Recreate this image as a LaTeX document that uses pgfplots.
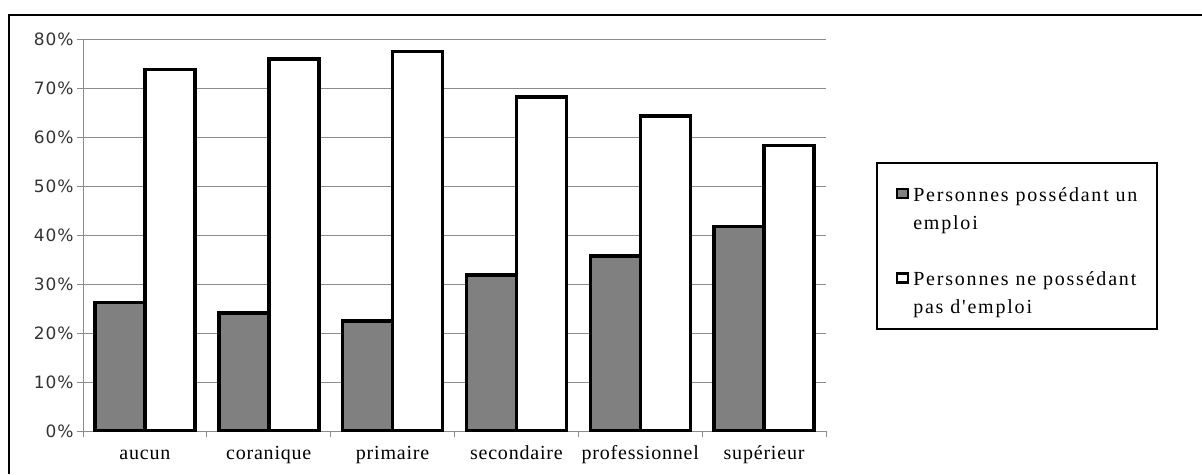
\documentclass[border=0pt]{standalone}
\usepackage{fontspec}
\setmainfont{Liberation Serif}
\newfontfamily\tickfont[LetterSpace=5]{DejaVu Sans}
\newfontfamily\labfont[LetterSpace=4]{Liberation Serif}
\newfontfamily\legfont[LetterSpace=9]{Liberation Serif}
\usepackage{pgfplots}
\pgfplotsset{compat=1.18}

\begin{document}
\begin{tikzpicture}
\useasboundingbox (0pt,0pt) rectangle (1202pt,474pt);
\draw[line width=2pt] (9pt,0pt) -- (9pt,459pt) -- (1202pt,459pt);
\begin{axis}[
  at={(83pt,43pt)}, anchor=south west,
  scale only axis, width=743pt, height=392pt,
  ybar=0pt, bar width=50pt,
  ymin=0, ymax=0.8, xmin=-0.5, xmax=5.5,
  ytick={0,0.1,0.2,0.3,0.4,0.5,0.6,0.7,0.8},
  yticklabels={0\%,10\%,20\%,30\%,40\%,50\%,60\%,70\%,80\%},
  xtick={0,1,2,3,4,5},
  xticklabels={aucun,coranique,primaire,secondaire,professionnel,supérieur},
  minor xtick={-0.5,0.5,1.5,2.5,3.5,4.5,5.5},
  major x tick style={draw=none},
  axis x line*=bottom, axis y line*=left,
  axis line style={black!45, line width=1pt},
  ymajorgrids, grid style={black!45, line width=1pt},
  tick align=outside, major tick length=6pt, minor tick length=6pt,
  tick style={black!45, line width=1pt},
  yticklabel style={font=\tickfont\fontsize{17}{19}\selectfont, text=black!80},
  xticklabel style={font=\labfont\fontsize{20}{22}\selectfont, anchor=base, yshift=-22pt},
  legend style={at={(1.067,0.686)}, anchor=north west, draw=black, line width=2pt,
    font=\legfont\fontsize{20}{28}\selectfont, inner xsep=19pt, inner ysep=13pt,
    row sep=29pt, column sep=3pt,
    cells={anchor=north west}, nodes={align=left, inner sep=1pt, anchor=north west}},
  legend image code/.code={\draw[#1, line width=2.5pt] (0pt,-22pt) rectangle (11pt,-13pt);},
]
\addplot[draw=black, line width=3.5pt, fill=black!50] coordinates {
(0,0.262) (1,0.241) (2,0.225) (3,0.318) (4,0.357) (5,0.417)};
\addlegendentry{\rule{0pt}{23pt}Personnes possédant un\\emploi}
\addplot[draw=black, line width=3.5pt, fill=white] coordinates {
(0,0.738) (1,0.759) (2,0.775) (3,0.682) (4,0.643) (5,0.583)};
\addlegendentry{\rule{0pt}{23pt}Personnes ne possédant\\pas d'emploi}
\end{axis}
\end{tikzpicture}
\end{document}
